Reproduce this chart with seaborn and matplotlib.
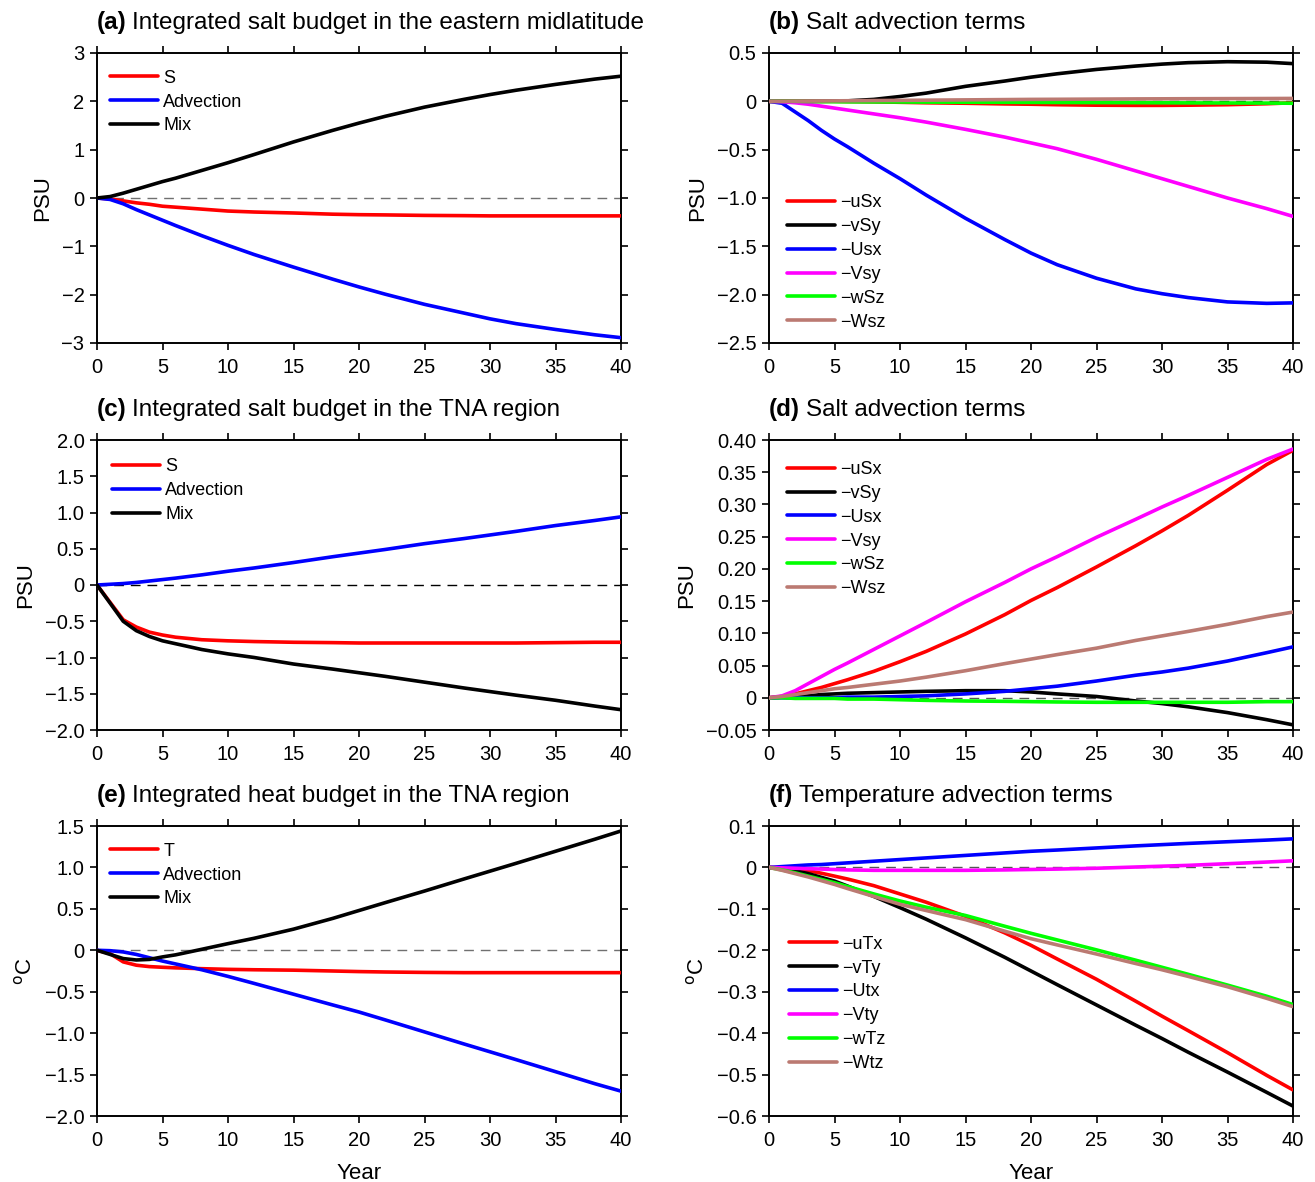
import matplotlib
matplotlib.use("Agg")
import matplotlib.pyplot as plt
import seaborn as sns

YEARS = [0, 1, 2, 3, 4, 5, 6, 8, 10, 12, 15, 18, 20, 22, 25, 28, 30, 32, 35, 38, 40]

# Panel (a)
a_S = [0, -0.02, -0.06, -0.10, -0.13, -0.17, -0.19, -0.23, -0.27, -0.29, -0.31, -0.335, -0.345, -0.35, -0.36, -0.365, -0.37, -0.37, -0.37, -0.37, -0.37]
a_Adv = [0, -0.03, -0.12, -0.24, -0.35, -0.46, -0.57, -0.78, -0.98, -1.17, -1.43, -1.68, -1.84, -1.99, -2.20, -2.38, -2.50, -2.60, -2.72, -2.83, -2.89]
a_Mix = [0, 0.03, 0.10, 0.18, 0.26, 0.34, 0.41, 0.57, 0.73, 0.90, 1.16, 1.40, 1.55, 1.69, 1.88, 2.04, 2.14, 2.23, 2.35, 2.46, 2.52]

# Panel (b)
b_uSx = [0, 0, 0, 0, 0, 0, -0.002, -0.005, -0.01, -0.015, -0.02, -0.027, -0.03, -0.035, -0.04, -0.042, -0.042, -0.04, -0.035, -0.025, -0.015]
b_vSy = [0, 0, 0, 0, 0, 0.002, 0.005, 0.02, 0.05, 0.085, 0.155, 0.21, 0.25, 0.285, 0.33, 0.365, 0.385, 0.40, 0.41, 0.405, 0.39]
b_Usx = [0, -0.02, -0.11, -0.20, -0.30, -0.39, -0.47, -0.64, -0.80, -0.97, -1.21, -1.43, -1.57, -1.69, -1.83, -1.94, -1.99, -2.03, -2.075, -2.09, -2.085]
b_Vsy = [0, -0.005, -0.015, -0.03, -0.05, -0.07, -0.09, -0.13, -0.17, -0.215, -0.29, -0.37, -0.43, -0.49, -0.60, -0.72, -0.80, -0.88, -1.0, -1.11, -1.19]
b_wSz = [0, 0, 0, -0.002, -0.003, -0.004, -0.005, -0.006, -0.007, -0.008, -0.009, -0.01, -0.011, -0.012, -0.013, -0.014, -0.015, -0.016, -0.017, -0.018, -0.02]
b_Wsz = [0, 0.001, 0.002, 0.003, 0.004, 0.005, 0.006, 0.008, 0.01, 0.012, 0.015, 0.018, 0.02, 0.021, 0.023, 0.025, 0.026, 0.027, 0.028, 0.029, 0.03]

# Panel (c)
c_S = [0, -0.24, -0.48, -0.58, -0.65, -0.69, -0.72, -0.755, -0.77, -0.78, -0.79, -0.795, -0.80, -0.80, -0.80, -0.80, -0.80, -0.80, -0.795, -0.79, -0.79]
c_Adv = [0, 0.01, 0.02, 0.035, 0.055, 0.075, 0.095, 0.14, 0.19, 0.235, 0.31, 0.39, 0.44, 0.49, 0.57, 0.64, 0.69, 0.74, 0.82, 0.89, 0.94]
c_Mix = [0, -0.25, -0.50, -0.63, -0.71, -0.77, -0.81, -0.89, -0.95, -1.0, -1.09, -1.16, -1.21, -1.26, -1.34, -1.42, -1.47, -1.52, -1.59, -1.67, -1.72]

# Panel (d)
d_uSx = [0, 0.002, 0.006, 0.011, 0.016, 0.022, 0.028, 0.041, 0.056, 0.072, 0.099, 0.129, 0.151, 0.171, 0.203, 0.236, 0.259, 0.283, 0.322, 0.362, 0.384]
d_vSy = [0, 0.001, 0.002, 0.003, 0.005, 0.006, 0.007, 0.008, 0.009, 0.01, 0.011, 0.011, 0.009, 0.006, 0.002, -0.005, -0.009, -0.014, -0.023, -0.034, -0.042]
d_Usx = [0, 0, 0, 0, 0, 0, 0.001, 0.001, 0.002, 0.003, 0.006, 0.010, 0.014, 0.018, 0.026, 0.035, 0.04, 0.046, 0.057, 0.07, 0.079]
d_Vsy = [0, 0.003, 0.011, 0.022, 0.033, 0.044, 0.054, 0.075, 0.096, 0.117, 0.149, 0.179, 0.2, 0.219, 0.249, 0.277, 0.296, 0.314, 0.342, 0.370, 0.386]
d_wSz = [0, 0, -0.001, -0.001, -0.001, -0.001, -0.002, -0.002, -0.003, -0.004, -0.005, -0.0055, -0.006, -0.0065, -0.007, -0.007, -0.007, -0.007, -0.007, -0.006, -0.006]
d_Wsz = [0, 0.002, 0.005, 0.008, 0.011, 0.014, 0.016, 0.021, 0.026, 0.032, 0.042, 0.053, 0.06, 0.067, 0.077, 0.089, 0.096, 0.103, 0.114, 0.126, 0.133]

# Panel (e)
e_T = [0, -0.04, -0.14, -0.18, -0.197, -0.205, -0.212, -0.222, -0.23, -0.235, -0.24, -0.25, -0.257, -0.262, -0.267, -0.27, -0.27, -0.27, -0.27, -0.27, -0.27]
e_Adv = [0, -0.005, -0.02, -0.05, -0.09, -0.13, -0.165, -0.235, -0.315, -0.40, -0.53, -0.66, -0.745, -0.84, -0.985, -1.13, -1.225, -1.32, -1.465, -1.61, -1.70]
e_Mix = [0, -0.05, -0.10, -0.117, -0.11, -0.08, -0.055, 0.012, 0.08, 0.145, 0.255, 0.385, 0.48, 0.575, 0.715, 0.86, 0.955, 1.05, 1.195, 1.34, 1.44]

# Panel (f)
f_uTx = [0, -0.001, -0.003, -0.008, -0.014, -0.021, -0.028, -0.044, -0.064, -0.084, -0.118, -0.158, -0.188, -0.221, -0.27, -0.323, -0.359, -0.394, -0.447, -0.502, -0.537]
f_vTy = [0, -0.003, -0.008, -0.015, -0.024, -0.033, -0.045, -0.07, -0.097, -0.125, -0.17, -0.217, -0.25, -0.283, -0.332, -0.381, -0.413, -0.446, -0.494, -0.543, -0.576]
f_Utx = [0, 0.002, 0.004, 0.006, 0.007, 0.009, 0.011, 0.015, 0.019, 0.023, 0.029, 0.035, 0.039, 0.042, 0.047, 0.052, 0.055, 0.058, 0.062, 0.066, 0.069]
f_Vty = [0, -0.001, -0.002, -0.003, -0.004, -0.005, -0.006, -0.007, -0.007, -0.007, -0.007, -0.006, -0.005, -0.004, -0.002, 0.001, 0.003, 0.005, 0.009, 0.013, 0.016]
f_wTz = [0, -0.006, -0.013, -0.021, -0.029, -0.037, -0.046, -0.064, -0.081, -0.096, -0.116, -0.142, -0.159, -0.175, -0.199, -0.224, -0.241, -0.258, -0.284, -0.311, -0.331]
f_Wtz = [0, -0.007, -0.015, -0.023, -0.032, -0.041, -0.051, -0.07, -0.089, -0.104, -0.126, -0.154, -0.172, -0.187, -0.209, -0.232, -0.247, -0.263, -0.288, -0.316, -0.336]

XTICKS = [0, 5, 10, 15, 20, 25, 30, 35, 40]

a_yticks = [-3, -2, -1, 0, 1, 2, 3]
a_ylabels = ["\u22123", "\u22122", "\u22121", "0", "1", "2", "3"]
b_yticks = [-2.5, -2.0, -1.5, -1.0, -0.5, 0, 0.5]
b_ylabels = ["\u22122.5", "\u22122.0", "\u22121.5", "\u22121.0", "\u22120.5", "0", "0.5"]
c_yticks = [-2.0, -1.5, -1.0, -0.5, 0, 0.5, 1.0, 1.5, 2.0]
c_ylabels = ["\u22122.0", "\u22121.5", "\u22121.0", "\u22120.5", "0", "0.5", "1.0", "1.5", "2.0"]
d_yticks = [-0.05, 0, 0.05, 0.10, 0.15, 0.20, 0.25, 0.30, 0.35, 0.40]
d_ylabels = ["\u22120.05", "0", "0.05", "0.10", "0.15", "0.20", "0.25", "0.30", "0.35", "0.40"]
e_yticks = [-2.0, -1.5, -1.0, -0.5, 0, 0.5, 1.0, 1.5]
e_ylabels = ["\u22122.0", "\u22121.5", "\u22121.0", "\u22120.5", "0", "0.5", "1.0", "1.5"]
f_yticks = [-0.6, -0.5, -0.4, -0.3, -0.2, -0.1, 0, 0.1]
f_ylabels = ["\u22120.6", "\u22120.5", "\u22120.4", "\u22120.3", "\u22120.2", "\u22120.1", "0", "0.1"]

budget_S_names = ["S", "Advection", "Mix"]
budget_T_names = ["T", "Advection", "Mix"]
salt_terms = ["\u2212uSx", "\u2212vSy", "\u2212Usx", "\u2212Vsy", "\u2212wSz", "\u2212Wsz"]
temp_terms = ["\u2212uTx", "\u2212vTy", "\u2212Utx", "\u2212Vty", "\u2212wTz", "\u2212Wtz"]

C3 = ["#ff0000", "#0000ff", "#000000"]
C6 = ["#ff0000", "#000000", "#0000ff", "#ff00ff", "#00ff00", "#bb7a72"]

sns.set_theme(style="ticks")
plt.rcParams["font.family"] = ["Liberation Sans", "DejaVu Sans"]
plt.rcParams["axes.linewidth"] = 1.4
plt.rcParams["text.color"] = "black"
plt.rcParams["axes.labelcolor"] = "black"
plt.rcParams["xtick.color"] = "black"
plt.rcParams["ytick.color"] = "black"
plt.rcParams["axes.edgecolor"] = "black"

fig = plt.figure(figsize=(13.15, 11.82), dpi=100)

L_left, R_left, W = 97 / 1315, 769 / 1315, 524 / 1315
H = 290 / 1182
bottoms = [1 - 343 / 1182, 1 - 730 / 1182, 1 - 1116 / 1182]

panels = [
    dict(pos=(L_left, bottoms[0]), tag="(a)", title="Integrated salt budget in the eastern midlatitude",
         series=[a_S, a_Adv, a_Mix], names=budget_S_names, colors=C3, yt=a_yticks, yl=a_ylabels,
         ylim=(-3, 3), ylabel="PSU", leg=(0.018, 0.955), dash="#707070"),
    dict(pos=(R_left, bottoms[0]), tag="(b)", title="Salt advection terms",
         series=[b_uSx, b_vSy, b_Usx, b_Vsy, b_wSz, b_Wsz], names=salt_terms, colors=C6, yt=b_yticks,
         yl=b_ylabels, ylim=(-2.5, 0.5), ylabel="PSU", leg=(0.027, 0.525), dash="#000000"),
    dict(pos=(L_left, bottoms[1]), tag="(c)", title="Integrated salt budget in the TNA region",
         series=[c_S, c_Adv, c_Mix], names=budget_S_names, colors=C3, yt=c_yticks, yl=c_ylabels,
         ylim=(-2.0, 2.0), ylabel="PSU", leg=(0.022, 0.95), dash="#000000"),
    dict(pos=(R_left, bottoms[1]), tag="(d)", title="Salt advection terms",
         series=[d_uSx, d_vSy, d_Usx, d_Vsy, d_wSz, d_Wsz], names=salt_terms, colors=C6, yt=d_yticks,
         yl=d_ylabels, ylim=(-0.05, 0.40), ylabel="PSU", leg=(0.027, 0.94), dash="#555555"),
    dict(pos=(L_left, bottoms[2]), tag="(e)", title="Integrated heat budget in the TNA region",
         series=[e_T, e_Adv, e_Mix], names=budget_T_names, colors=C3, yt=e_yticks, yl=e_ylabels,
         ylim=(-2.0, 1.5), ylabel="$^{\\mathrm{o}}$C", leg=(0.018, 0.955), dash="#707070"),
    dict(pos=(R_left, bottoms[2]), tag="(f)", title="Temperature advection terms",
         series=[f_uTx, f_vTy, f_Utx, f_Vty, f_wTz, f_Wtz], names=temp_terms, colors=C6, yt=f_yticks,
         yl=f_ylabels, ylim=(-0.6, 0.1), ylabel="$^{\\mathrm{o}}$C", leg=(0.031, 0.634), dash="#555555"),
]

for i, p in enumerate(panels):
    ax = fig.add_axes([p["pos"][0], p["pos"][1], W, H])
    ax.axhline(0, color=p["dash"], lw=1.0, dashes=(7, 5), zorder=1)
    for vals, name, col in zip(p["series"], p["names"], p["colors"]):
        sns.lineplot(x=YEARS, y=vals, color=col, label=name, lw=2.6, ax=ax, zorder=3)
    ax.set_xlim(0, 40)
    ax.set_ylim(*p["ylim"])
    ax.set_xticks(XTICKS)
    ax.set_xticklabels([str(t) for t in XTICKS])
    ax.set_yticks(p["yt"])
    ax.set_yticklabels(p["yl"])
    ax.tick_params(axis="both", which="major", direction="out", length=5, width=1.2,
                   labelsize=14.5, top=True, right=True, pad=4, colors="#000000")
    ax.tick_params(axis="x", pad=6)
    for s in ax.spines.values():
        s.set_visible(True)
        s.set_color("#000000")
    ax.set_ylabel(p["ylabel"], fontsize=16, labelpad=6)
    if i >= 4:
        ax.set_xlabel("Year", fontsize=16, labelpad=9)
    else:
        ax.set_xlabel("")
    leg = ax.legend(loc="upper left", bbox_to_anchor=p["leg"], frameon=False, fontsize=13,
                    handlelength=2.65, handletextpad=0.3, labelspacing=0.38, borderaxespad=0.0,
                    borderpad=0.2)
    for ln in leg.get_lines():
        ln.set_linewidth(2.6)
    t1 = ax.annotate(p["tag"], xy=(0, 1), xycoords="axes fraction", xytext=(0, 13.5),
                     textcoords="offset points", ha="left", va="bottom", fontsize=17.5,
                     fontweight="bold")
    ax.annotate(p["title"], xy=(1, 0), xycoords=t1, xytext=(4, 0), textcoords="offset points",
                ha="left", va="bottom", fontsize=17.5)

fig.savefig("out.png", dpi=100)
